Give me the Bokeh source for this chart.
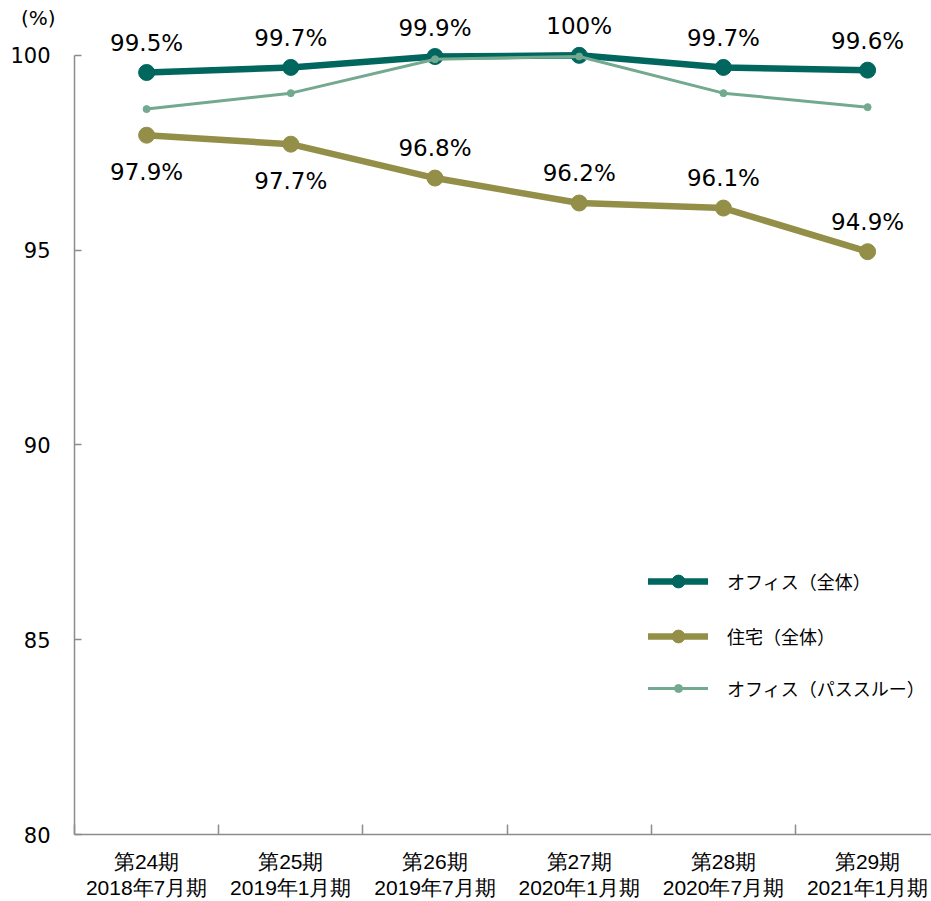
from bokeh.plotting import figure
from bokeh.models import Range1d, FixedTicker, Legend, LegendItem, LinearAxis, ColumnDataSource
from bokeh.core.properties import value
from bokeh.embed import file_html
from bokeh.resources import INLINE

period_names = ["第24期", "第25期", "第26期", "第27期", "第28期", "第29期"]
period_dates = ["2018年7月期", "2019年1月期", "2019年7月期", "2020年1月期", "2020年7月期", "2021年1月期"]
office_total = [99.56, 99.69, 99.97, 100.0, 99.69, 99.62]
office_total_labels = ["99.5%", "99.7%", "99.9%", "100%", "99.7%", "99.6%"]
residential = [97.95, 97.72, 96.85, 96.21, 96.08, 94.96]
residential_labels = ["97.9%", "97.7%", "96.8%", "96.2%", "96.1%", "94.9%"]
residential_label_side = ["below", "below", "above", "above", "above", "above"]
office_pass = [98.62, 99.03, 99.90, 99.97, 99.03, 98.67]
y_ticks = [80, 85, 90, 95, 100]
y_unit = "(%)"
series_names = ["オフィス（全体）", "住宅（全体）", "オフィス（パススルー）"]

C_OFFICE = "#00665E"
C_RES = "#948F48"
C_PASS = "#72A98F"
AXIS_C = "#8C8C8C"
CAT_FONT = "Liberation Sans"

x = list(range(len(period_names)))

p = figure(width=931, height=901, x_range=Range1d(-0.5, 5.443), y_range=Range1d(80, 101.408),
           output_backend="svg", toolbar_location=None,
           min_border_left=74, min_border_right=0, min_border_top=0, min_border_bottom=65)
p.outline_line_color = None
p.xgrid.visible = False
p.ygrid.visible = False
p.background_fill_color = "white"
p.border_fill_color = "white"

src_o = ColumnDataSource(dict(x=x, y=office_total, t=office_total_labels))
src_r = ColumnDataSource(dict(x=x, y=residential, t=residential_labels,
                              off=[37 if s == "below" else -30 for s in residential_label_side]))
src_p = ColumnDataSource(dict(x=x, y=office_pass))

lo = p.line("x", "y", source=src_o, line_color=C_OFFICE, line_width=6.5, line_cap="round", line_join="round")
so = p.scatter("x", "y", source=src_o, size=16, fill_color=C_OFFICE, line_color=C_OFFICE)
lr = p.line("x", "y", source=src_r, line_color=C_RES, line_width=6.5, line_cap="round", line_join="round")
sr = p.scatter("x", "y", source=src_r, size=16, fill_color=C_RES, line_color=C_RES)
lp = p.line("x", "y", source=src_p, line_color=C_PASS, line_width=3, line_cap="round", line_join="round")
sp = p.scatter("x", "y", source=src_p, size=7, fill_color=C_PASS, line_color=C_PASS)

p.text("x", "y", text="t", source=src_o, y_offset=-29, text_align="center", text_baseline="middle",
       text_font=value("DejaVu Sans"), text_font_size="23px", text_color="black")
p.text("x", "y", text="t", source=src_r, y_offset="off", text_align="center", text_baseline="middle",
       text_font=value("DejaVu Sans"), text_font_size="23px", text_color="black")

# x axis: line, boundary ticks and first label line
xa = p.xaxis[0]
xa.ticker = FixedTicker(ticks=x, minor_ticks=[i - 0.5 for i in range(len(x) + 1)])
xa.major_label_overrides = {i: period_names[i] for i in x}
xa.major_tick_in = 0
xa.major_tick_out = 0
xa.minor_tick_in = 10
xa.minor_tick_out = 0
xa.minor_tick_line_color = AXIS_C
xa.minor_tick_line_width = 1.5
xa.axis_line_color = AXIS_C
xa.axis_line_width = 1.5
xa.major_label_standoff = 15
xa.major_label_text_font = CAT_FONT
xa.major_label_text_font_size = "21px"
xa.major_label_text_color = "black"

# second label line
xa2 = LinearAxis(ticker=FixedTicker(ticks=x), major_label_overrides={i: period_dates[i] for i in x},
                 axis_line_color=None, major_tick_line_color=None, minor_tick_line_color=None,
                 major_label_standoff=-6, major_label_text_font=CAT_FONT,
                 major_label_text_font_size="21px", major_label_text_color="black")
p.add_layout(xa2, "below")

# y axis
ya = p.yaxis[0]
ya.ticker = FixedTicker(ticks=y_ticks)
ya.bounds = (80, 100)
ya.major_tick_in = 7
ya.major_tick_out = 0
ya.minor_tick_in = 0
ya.minor_tick_out = 0
ya.major_tick_line_color = AXIS_C
ya.major_tick_line_width = 1.5
ya.axis_line_color = AXIS_C
ya.axis_line_width = 1.5
ya.major_label_standoff = 24
ya.major_label_text_font = "DejaVu Sans"
ya.major_label_text_font_size = "21px"
ya.major_label_text_color = "black"

# unit label above the y tick labels
ya2 = LinearAxis(ticker=FixedTicker(ticks=[100.947]),
                 major_label_overrides={100.947: y_unit},
                 axis_line_color=None, major_tick_line_color=None, minor_tick_line_color=None,
                 major_label_standoff=-54, major_label_text_font="DejaVu Sans",
                 major_label_text_font_size="20px", major_label_text_color="black")
p.add_layout(ya2, "left")

leg1 = Legend(items=[LegendItem(label=series_names[0], renderers=[lo, so]),
                     LegendItem(label=series_names[1], renderers=[lr, sr])],
              location=(574, 182), glyph_width=60, glyph_height=32, spacing=23,
              label_standoff=19, padding=0, margin=0, border_line_color=None,
              background_fill_alpha=0, label_text_font="Noto Sans CJK JP",
              label_text_font_size="18px", label_text_color="black")
leg2 = Legend(items=[LegendItem(label=series_names[2], renderers=[lp, sp])],
              location=(574, 133), glyph_width=60, glyph_height=20, spacing=0,
              label_standoff=19, padding=0, margin=0, border_line_color=None,
              background_fill_alpha=0, label_text_font="Noto Sans CJK JP",
              label_text_font_size="18px", label_text_color="black")
p.add_layout(leg1, "center")
p.add_layout(leg2, "center")

open("out.html", "w").write(file_html(p, INLINE))
